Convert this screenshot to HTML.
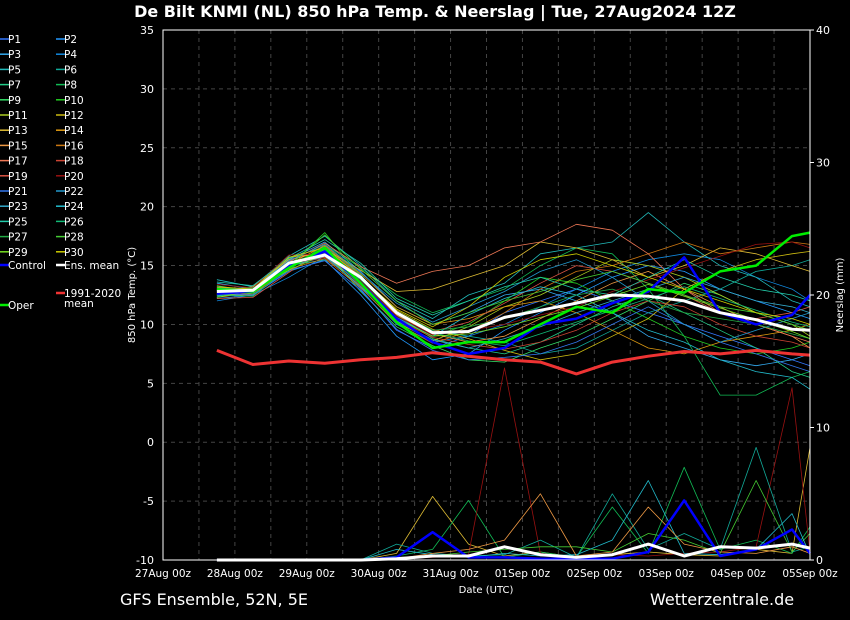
<!DOCTYPE html>
<html><head><meta charset="utf-8"><style>
body{margin:0;background:#000;}
svg{display:block;font-family:"DejaVu Sans","Liberation Sans",sans-serif;}
</style></head><body>
<svg id="c" width="850" height="620" viewBox="0 0 850 620">
<rect width="850" height="620" fill="#000"/>
<text x="435" y="17" fill="#fff" font-size="16" font-weight="bold" text-anchor="middle">De Bilt KNMI  (NL)  850 hPa Temp. &amp; Neerslag | Tue, 27Aug2024 12Z</text>
<text x="120" y="605" fill="#fff" font-size="16">GFS Ensemble, 52N, 5E</text>
<text x="650" y="605" fill="#fff" font-size="16">Wetterzentrale.de</text>
<text x="486" y="593" fill="#fff" font-size="10" text-anchor="middle">Date (UTC)</text>
<text transform="translate(135,295) rotate(-90)" fill="#fff" font-size="10" text-anchor="middle">850 hPa Temp. (°C)</text>
<text transform="translate(843,295) rotate(-90)" fill="#fff" font-size="10" text-anchor="middle">Neerslag (mm)</text>
<g id="grid"></g><g id="prec"></g><g id="temp"></g><g id="axes"></g><g id="legend"></g>
</svg>
<script>
const hours=[18,30,42,54,66,78,90,102,114,126,138,150,162,174,186,198,210,216];
const tempTicks=[-10,-5,0,5,10,15,20,25,30,35];
const precTicks=[0,10,20,30,40];
const dateLabels=["27Aug 00z","28Aug 00z","29Aug 00z","30Aug 00z","31Aug 00z","01Sep 00z","02Sep 00z","03Sep 00z","04Sep 00z","05Sep 00z"];
const ensMean=[12.8,12.9,15.2,15.9,14.0,11.0,9.3,9.4,10.6,11.2,11.8,12.5,12.4,12.0,11.0,10.4,9.6,9.5];
const climMean=[7.8,6.6,6.9,6.7,7.0,7.2,7.6,7.3,7.0,6.8,5.8,6.8,7.3,7.7,7.5,7.8,7.5,7.4];
const control=[12.6,12.8,15.0,16.2,13.5,10.5,8.5,7.5,8.0,10.0,10.5,11.8,12.8,15.7,11.0,10.0,10.8,12.5];
const oper=[13.0,12.8,14.8,16.5,13.5,10.2,8.0,8.5,8.5,10.0,11.5,11.0,13.0,12.7,14.5,15.0,17.5,17.8];
const members=[
[12.5,12.6,15.3,16.0,13.0,9.5,8.0,9.0,11.0,12.0,13.0,12.0,11.0,10.0,9.0,8.0,7.0,6.5],
[12.2,12.5,14.5,15.5,12.5,9.0,7.0,7.5,9.5,11.0,12.5,14.0,15.0,14.5,13.0,12.0,11.0,10.5],
[13.5,13.0,15.5,17.0,14.5,11.5,10.0,11.0,12.5,13.0,12.0,11.0,9.0,8.0,7.0,6.5,7.0,7.5],
[12.0,12.5,14.0,15.8,13.2,10.0,8.5,9.0,10.0,11.5,13.0,14.5,15.5,16.0,15.5,14.0,13.0,12.0],
[13.8,13.2,15.8,17.5,15.0,12.0,10.5,12.5,13.5,16.0,16.5,17.0,19.5,17.0,15.0,14.0,12.0,11.5],
[12.7,12.9,15.0,15.5,13.8,11.0,9.5,9.0,8.5,7.5,8.0,9.5,11.0,12.0,13.0,14.5,15.0,15.5],
[13.0,12.7,15.6,16.6,14.2,10.8,8.8,8.0,7.5,8.5,10.0,11.5,12.5,11.0,9.5,8.0,6.0,5.5],
[12.4,13.0,14.6,16.8,14.8,12.5,11.0,12.0,13.0,15.0,16.5,16.0,13.0,9.0,4.0,4.0,5.5,6.0],
[13.3,12.8,15.4,16.3,12.8,9.8,8.2,7.0,6.8,8.0,9.0,10.5,12.0,13.5,12.5,11.0,10.0,9.5],
[12.9,13.1,14.9,17.8,14.0,10.5,9.0,10.0,12.0,14.0,13.5,12.0,10.5,9.0,8.0,7.5,8.0,8.5],
[12.6,12.4,15.2,15.9,13.4,10.2,8.6,9.8,11.5,12.5,14.0,15.5,15.0,14.0,12.5,11.0,10.0,9.0],
[13.1,13.0,15.7,16.1,13.9,11.2,9.6,8.8,7.8,7.0,7.5,9.0,10.5,13.0,14.5,15.5,16.0,16.2],
[12.3,12.7,14.8,16.4,14.6,12.8,13.0,14.0,15.0,17.0,16.5,15.5,14.0,15.0,16.5,16.0,15.0,14.5],
[13.2,12.9,15.1,16.7,14.3,11.5,10.0,10.5,11.5,12.0,11.0,9.5,8.0,7.5,8.5,9.0,9.5,10.0],
[12.8,13.2,15.5,16.2,13.6,10.8,9.2,8.5,9.0,10.5,12.0,13.5,14.5,13.0,11.5,10.0,9.0,8.0],
[12.5,12.6,14.7,15.6,13.1,10.1,8.4,9.4,11.0,13.0,14.5,15.0,16.0,17.0,16.0,16.5,17.0,16.8],
[13.0,12.8,15.3,16.9,14.9,13.5,14.5,15.0,16.5,17.0,18.5,18.0,16.0,13.0,11.0,10.0,9.0,8.5],
[12.7,13.0,15.0,15.7,13.3,10.4,8.9,8.3,7.9,8.5,9.5,11.0,12.0,11.5,10.0,9.0,8.5,8.0],
[12.2,12.3,14.4,16.5,14.1,11.0,9.4,10.2,11.8,13.5,15.0,14.5,13.5,12.5,11.0,10.5,11.0,11.5],
[13.4,13.1,15.9,16.0,13.7,10.7,9.1,9.5,10.0,10.8,11.5,12.8,13.8,14.8,15.8,16.8,17.0,16.5],
[12.6,12.5,14.6,15.4,12.9,9.6,7.8,7.0,7.2,7.5,8.5,10.0,11.5,10.0,8.5,7.5,6.5,6.0],
[13.1,12.9,15.4,16.8,14.4,11.8,10.2,11.5,12.8,14.5,15.5,14.0,12.0,10.0,8.5,9.5,10.5,11.0],
[12.9,12.7,15.2,16.1,13.5,10.3,8.7,8.0,8.8,9.8,11.0,12.0,13.0,14.0,13.0,12.0,11.5,11.0],
[12.4,12.8,14.9,15.8,13.2,10.6,9.0,10.8,12.2,13.2,12.5,11.0,9.5,8.5,7.0,6.0,5.5,4.5],
[13.6,13.3,15.6,17.2,15.2,12.2,10.8,12.0,13.2,14.0,13.0,12.5,14.0,15.5,14.0,13.0,12.5,12.0],
[12.5,12.4,14.8,16.3,13.8,10.9,9.3,8.6,8.2,9.2,10.2,11.2,12.2,13.2,12.2,11.2,10.2,9.8],
[13.0,13.1,15.1,16.4,13.9,11.1,9.5,9.8,10.5,11.5,12.5,13.0,12.0,11.0,10.5,10.0,9.2,8.8],
[12.8,12.6,15.0,17.6,14.7,12.0,10.0,11.0,12.0,12.8,13.8,14.5,13.5,12.5,11.5,11.0,10.0,9.5],
[12.3,12.9,14.6,16.0,13.4,10.5,9.0,9.2,9.8,10.6,11.4,12.4,13.4,12.4,11.4,10.4,9.4,8.8],
[13.2,13.0,15.7,16.5,14.0,11.3,9.8,11.5,14.0,15.5,16.0,15.0,14.0,13.0,12.0,11.0,10.5,10.0]];
const memberColors=["#3377ff","#2299ff","#33aaee","#1188dd","#22bbbb","#11aa99","#22cc88","#11bb55","#33dd66","#22cc22","#aacc22","#ccbb11","#ddbb33","#dd9911","#ee9944","#cc7711","#ee7755","#cc4433","#dd5544","#991111","#3377ee","#2299cc","#33aacc","#22bbcc","#22ccaa","#11bb77","#22aa44","#44cc33","#77dd22","#cccc00"];
const precMean=[0,0,0,0,0,0.1,0.3,0.3,1.0,0.4,0.2,0.4,1.2,0.3,1.0,0.9,1.2,0.9];
const precControl=[0,0,0,0,0,0.2,2.1,0.2,0.2,0.1,0.1,0.1,0.6,4.5,0.3,0.8,2.3,0.5];
const precMemberIdx=[12,7,19,5,27,23,14];
const precMemberVals=[
[0,0,0,0,0,0.5,4.8,1.2,0.3,0.6,0.2,0.4,0.6,0.4,0.3,0.8,0.5,8.5],
[0,0,0,0,0,0.3,0.8,4.5,0.2,0.6,0.2,4.0,0.5,7.0,0.8,1.5,0.5,2.5],
[0,0,0,0,0,0.1,0.2,0.4,14.5,0.5,0.1,0.4,0.3,0.5,0.6,1.0,13.0,0.6],
[0,0,0,0,0,1.2,0.5,0.3,0.4,1.5,0.2,5.0,0.8,2.0,0.8,8.5,0.6,1.0],
[0,0,0,0,0,0.2,0.3,0.6,0.8,1.0,1.0,0.6,2.0,1.5,0.5,6.0,0.6,2.0],
[0,0,0,0,0,0.8,0.4,0.2,0.5,0.3,0.4,1.5,6.0,0.5,0.4,0.8,3.5,0.4],
[0,0,0,0,0,0.1,0.5,0.8,1.5,5.0,0.3,0.6,4.0,1.2,0.6,0.5,1.0,0.5]];
const NS='http://www.w3.org/2000/svg';
const X0=163,X1=810,Y0=30,Y1=560;
const xs=h=>X0+(h/216)*(X1-X0);
const yT=t=>Y1-(t+10)/45*(Y1-Y0);
const yP=p=>Y1-p/40*(Y1-Y0);
function el(tag,attrs,parent){const e=document.createElementNS(NS,tag);for(const k in attrs)e.setAttribute(k,attrs[k]);parent.appendChild(e);return e;}
const grid=document.getElementById('grid'),axes=document.getElementById('axes'),temp=document.getElementById('temp'),prec=document.getElementById('prec'),leg=document.getElementById('legend');
for(let h=12;h<216;h+=12){const g=el('line',{x1:xs(h),x2:xs(h),y1:Y0,y2:Y1,stroke:'#444','stroke-dasharray':'4,4'},grid);

}
tempTicks.forEach(t=>{if(t>-10&&t<35){const g=el('line',{x1:X0,x2:X1,y1:yT(t),y2:yT(t),stroke:'#444','stroke-dasharray':'4,4'},grid);

}
const tx=el('text',{x:154,y:yT(t)+4,fill:'#fff','font-size':11,'text-anchor':'end'},axes);tx.textContent=t;

});
precTicks.forEach(p=>{const tx=el('text',{x:816,y:yP(p)+4,fill:'#fff','font-size':11},axes);tx.textContent=p;


el('line',{x1:X1,x2:X1+4,y1:yP(p),y2:yP(p),stroke:'#fff'},axes);});
dateLabels.forEach((d,i)=>{const tx=el('text',{x:xs(i*24),y:577,fill:'#fff','font-size':10.5,'text-anchor':'middle'},axes);tx.textContent=d;

});
const fr=el('rect',{x:X0,y:Y0,width:X1-X0,height:Y1-Y0,fill:'none',stroke:'#fff'},axes);


function line(vals,yf,color,w,parent,name){const pts=vals.map((v,i)=>xs(hours[i]).toFixed(1)+','+yf(v).toFixed(1)).join(' ');
const p=el('polyline',{points:pts,fill:'none',stroke:color,'stroke-width':w,'stroke-linejoin':'round'},parent);

return p;}
members.forEach((m,i)=>line(m,yT,memberColors[i],0.8,temp,'member-p'+(i+1)+'-temp'));
precMemberVals.forEach((m,j)=>line(m,yP,memberColors[precMemberIdx[j]],0.8,prec,'member-precip'));
line(precControl,yP,'#0000ff',2.5,prec,'control-precip');
line(precMean,yP,'#fff',3,prec,'mean-precip');
line(climMean,yT,'#ee3333',3,temp,'climate-mean-line');
line(control,yT,'#0000ff',2.5,temp,'control-line');
line(oper,yT,'#00ee00',2.5,temp,'oper-line');
line(ensMean,yT,'#fff',3,temp,'ensemble-mean-line');
function legItem(x,y,color,label,w){const g=el('g',{},leg);


el('line',{x1:x-8,x2:x+1,y1:y,y2:y,stroke:color,'stroke-width':w},g);
const t=el('text',{x:x,y:y+4,fill:'#fff','font-size':10.5},g);t.textContent=label;}
for(let i=0;i<30;i++){const r=Math.floor(i/2),c=i%2;legItem(c?64:8,39+r*15.2,memberColors[i],'P'+(i+1),1.5);}
legItem(8,265,'#0000ff','Control',2.5);legItem(64,265,'#fff','Ens. mean',2.5);
legItem(64,293,'#ee3333','1991-2020',2.5);
const mt=el('text',{x:64,y:307,fill:'#fff','font-size':10.5},leg);mt.textContent='mean';
legItem(8,305,'#00ee00','Oper',2.5);
</script>
</body></html>
